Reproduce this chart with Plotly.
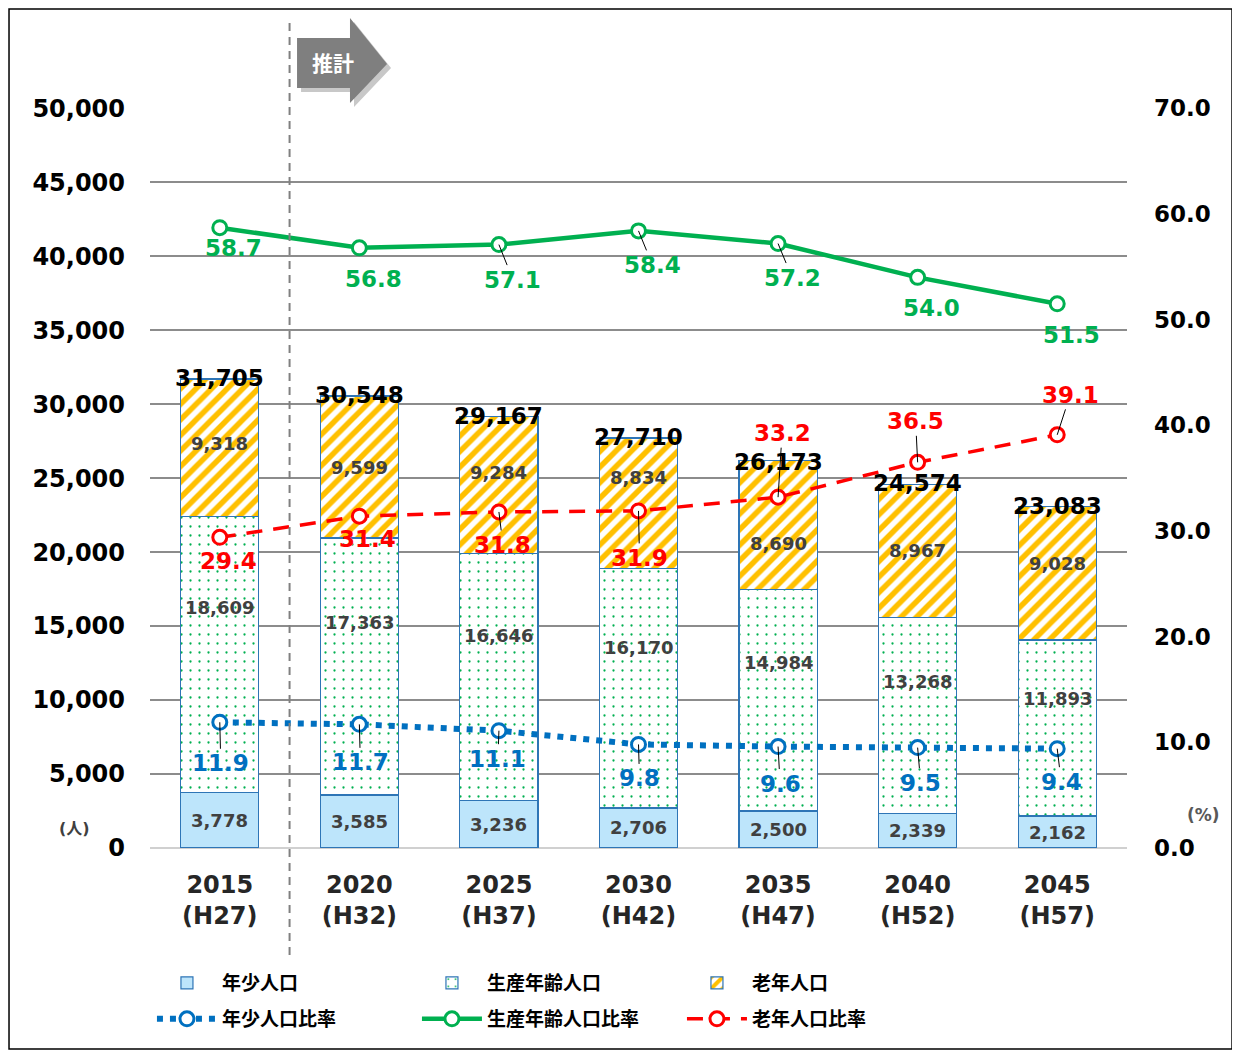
import plotly.graph_objects as go

# ---------------- data ----------------
years = ["2015<br>(H27)", "2020<br>(H32)", "2025<br>(H37)", "2030<br>(H42)",
         "2035<br>(H47)", "2040<br>(H52)", "2045<br>(H57)"]
young = [3778, 3585, 3236, 2706, 2500, 2339, 2162]
working = [18609, 17363, 16646, 16170, 14984, 13268, 11893]
elderly = [9318, 9599, 9284, 8834, 8690, 8967, 9028]
totals = [31705, 30548, 29167, 27710, 26173, 24574, 23083]
young_ratio = [11.9, 11.7, 11.1, 9.8, 9.6, 9.5, 9.4]
working_ratio = [58.7, 56.8, 57.1, 58.4, 57.2, 54.0, 51.5]
elderly_ratio = [29.4, 31.4, 31.8, 31.9, 33.2, 36.5, 39.1]

# ---------------- label placement (pixels) ----------------
green_ax = [14, 14, 14, 14, 14, 14, 14]
green_ay = [20, 31, 35, 34, 34, 31, 31]
green_leader = [0, 0, 1, 1, 1, 0, 0]
blue_ax = [1, 1, -1, 1, 2, 3, 4]
blue_ay = [41, 38, 28, 34, 37, 35, 33]
blue_leader = [1, 1, 1, 1, 1, 1, 1]
red_ax = [9, 8, 4, 1, 4, -2, 13]
red_ay = [24, 23, 33, 47, -64, -41, -40]
red_leader = [0, 0, 1, 1, 1, 1, 1]
elderly_label_shift = [4, 0, 13, 26, -18, 0, 10]
total_label_shift = [1, 1, 1, 1, -1, 1, 1]
working_label_frac = 0.67

FONT = "DejaVu Sans, Noto Sans CJK JP, sans-serif"
BLUE = "#0070c0"
GREEN = "#00b050"
RED = "#ff0000"
EDGE = "#2e75b6"

fig = go.Figure()

fig.add_trace(go.Bar(
    x=years, y=young, name="年少人口", width=0.56, legend="legend",
    marker=dict(color="#bde5fb", line=dict(color=EDGE, width=1.2)),
))
fig.add_trace(go.Bar(
    x=years, y=working, name="生産年齢人口", width=0.56, legend="legend",
    marker=dict(color="white", line=dict(color=EDGE, width=1.2),
                pattern=dict(shape=".", fgcolor=GREEN, bgcolor="white", fgopacity=1,
                             fillmode="replace", size=9, solidity=0.05)),
))
fig.add_trace(go.Bar(
    x=years, y=elderly, name="老年人口", width=0.56, legend="legend",
    marker=dict(color="white", line=dict(color=EDGE, width=1.2),
                pattern=dict(shape="/", fgcolor="#ffc000", bgcolor="white", fgopacity=1,
                             fillmode="replace", size=11, solidity=0.5)),
))

fig.add_trace(go.Scatter(
    x=years, y=young_ratio, name="年少人口比率", yaxis="y2", mode="lines+markers", legend="legend2",
    line=dict(color=BLUE, width=6, dash="6px,7px"),
    marker=dict(symbol="circle", size=14, color="white", line=dict(color=BLUE, width=3)),
))
fig.add_trace(go.Scatter(
    x=years, y=working_ratio, name="生産年齢人口比率", yaxis="y2", mode="lines+markers", legend="legend2",
    line=dict(color=GREEN, width=4.5),
    marker=dict(symbol="circle", size=14, color="white", line=dict(color=GREEN, width=3)),
))
fig.add_trace(go.Scatter(
    x=years, y=elderly_ratio, name="老年人口比率", yaxis="y2", mode="lines+markers", legend="legend2",
    line=dict(color=RED, width=3.5, dash="16px,11px"),
    marker=dict(symbol="circle", size=14, color="white", line=dict(color=RED, width=3)),
))

annotations = []
# inside-bar labels
for i, yr in enumerate(years):
    annotations.append(dict(x=yr, y=young[i] / 2, xref="x", yref="y",
                            text=f"{young[i]:,}", showarrow=False,
                            font=dict(family=FONT, size=18, color="#404040", weight="bold")))
    annotations.append(dict(x=yr, y=young[i] + working[i] * working_label_frac, xref="x", yref="y",
                            text=f"{working[i]:,}", showarrow=False,
                            font=dict(family=FONT, size=18, color="#404040", weight="bold")))
    annotations.append(dict(x=yr, y=young[i] + working[i] + elderly[i] / 2, xref="x", yref="y",
                            text=f"{elderly[i]:,}", showarrow=False, yshift=elderly_label_shift[i],
                            font=dict(family=FONT, size=18, color="#404040", weight="bold")))
    annotations.append(dict(x=yr, y=totals[i], xref="x", yref="y",
                            text=f"{totals[i]:,}", showarrow=False, yshift=total_label_shift[i],
                            font=dict(family=FONT, size=23, color="black", weight="bold")))

# ratio labels
def ratio_labels(vals, axs, ays, leaders, color):
    for i, yr in enumerate(years):
        annotations.append(dict(
            x=yr, y=vals[i], xref="x", yref="y2", text=f"{vals[i]:.1f}",
            showarrow=True, arrowhead=0, arrowwidth=1, standoff=0,
            arrowcolor="black" if leaders[i] else "rgba(0,0,0,0)",
            ax=axs[i], ay=ays[i],
            font=dict(family=FONT, size=23, color=color, weight="bold")))

ratio_labels(working_ratio, green_ax, green_ay, green_leader, GREEN)
ratio_labels(young_ratio, blue_ax, blue_ay, blue_leader, BLUE)
ratio_labels(elderly_ratio, red_ax, red_ay, red_leader, RED)

# unit labels
annotations.append(dict(x=-0.0768, y=0.0257, xref="paper", yref="paper", text="(人)",
                        xanchor="center", yanchor="middle", showarrow=False,
                        font=dict(family=FONT, size=16, color="#404040", weight="bold")))
annotations.append(dict(x=1.0778, y=0.0446, xref="paper", yref="paper", text="(%)",
                        xanchor="center", yanchor="middle", showarrow=False,
                        font=dict(family=FONT, size=17, color="#595959", weight="bold")))
# arrow text
annotations.append(dict(x=0.1873, y=1.0595, xref="paper", yref="paper", text="推計",
                        xanchor="center", yanchor="middle", showarrow=False,
                        font=dict(family=FONT, size=21, color="white", weight="bold")))

arrow_path = "M 0.1505 1.0946 L 0.2047 1.0946 L 0.2047 1.1216 L 0.2426 1.0595 L 0.2047 1.0068 L 0.2047 1.027 L 0.1505 1.027 Z"
shadow_path = "M 0.1546 1.0892 L 0.2088 1.0892 L 0.2088 1.1162 L 0.2467 1.0541 L 0.2088 1.0014 L 0.2088 1.0216 L 0.1546 1.0216 Z"

shapes = [
    dict(type="rect", xref="paper", yref="paper", x0=-0.1443, x1=1.1075, y0=-0.2716, y1=1.1338,
         line=dict(color="black", width=1.5), fillcolor="rgba(0,0,0,0)", layer="below"),
    dict(type="line", xref="x", yref="paper", x0=0.5, x1=0.5, y0=-0.1446, y1=1.1216,
         line=dict(color="#808080", width=2, dash="8px,6px")),
    dict(type="path", xref="paper", yref="paper", path=shadow_path,
         fillcolor="#c8c8c8", line=dict(width=0)),
    dict(type="path", xref="paper", yref="paper", path=arrow_path,
         fillcolor="#7f7f7f", line=dict(width=0)),
]

legend_font = dict(family=FONT, size=19, color="black", weight="bold")

fig.update_layout(
    width=1232, height=1046,
    margin=dict(l=142, r=113, t=100, b=206),
    paper_bgcolor="white", plot_bgcolor="white",
    barmode="stack", bargap=0.44,
    font=dict(family=FONT, color="black"),
    xaxis=dict(type="category", showgrid=False, zeroline=False, showline=False,
               tickfont=dict(family=FONT, size=24, color="#262626", weight="bold"),
               ticks="", ticklabelstandoff=20),
    yaxis=dict(range=[0, 50020], tickvals=list(range(0, 50001, 5000)), tickformat=",",
               showgrid=True, gridcolor="#8c8c8c", gridwidth=1.5,
               zeroline=True, zerolinecolor="#d0d0d0", zerolinewidth=2,
               tickfont=dict(family=FONT, size=24, color="black", weight="bold"),
               ticks="", ticklabelstandoff=24),
    yaxis2=dict(range=[0, 70.028], tickvals=[0, 10, 20, 30, 40, 50, 60, 70], tickformat=".1f",
                overlaying="y", side="right",
                showgrid=False, zeroline=False,
                tickfont=dict(family=FONT, size=23, color="black", weight="bold"),
                ticks="", ticklabelstandoff=26),
    legend=dict(orientation="h", x=0.002, xanchor="left", y=-0.1824, yanchor="middle",
                traceorder="normal", entrywidth=190, entrywidthmode="pixels",
                font=legend_font, itemwidth=60, bgcolor="rgba(0,0,0,0)"),
    legend2=dict(orientation="h", x=0.002, xanchor="left", y=-0.231, yanchor="middle",
                 traceorder="normal", entrywidth=190, entrywidthmode="pixels",
                 font=legend_font, itemwidth=60, bgcolor="rgba(0,0,0,0)"),
    showlegend=True,
    annotations=annotations,
    shapes=shapes,
)

fig.write_html("out.html")
